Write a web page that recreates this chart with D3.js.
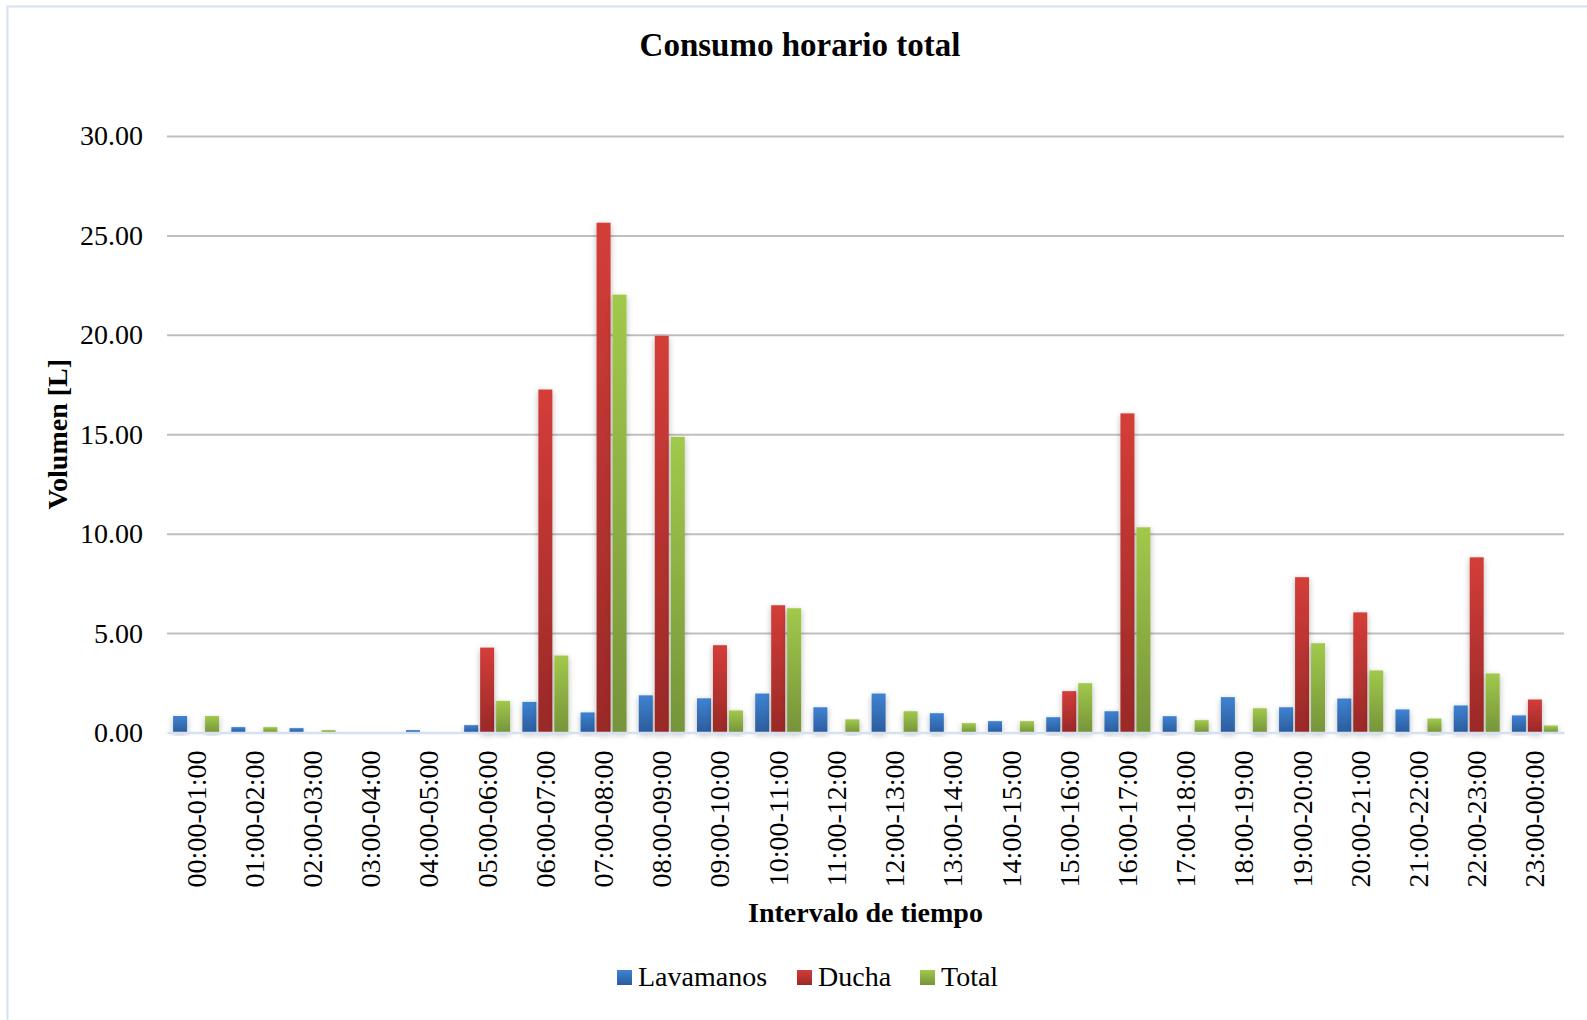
<!DOCTYPE html>
<html>
<head>
<meta charset="utf-8">
<script src="https://cdn.jsdelivr.net/npm/d3@7/dist/d3.min.js"></script>
<style>
  html, body { margin: 0; padding: 0; background: #fff; }
  svg { display: block; font-family: "Liberation Serif", "Times New Roman", serif; }
</style>
</head>
<body>
<svg id="chart" width="1587" height="1020"></svg>
<script>
// Hourly water use by fixture, in litres
const categories = [
  "00:00-01:00","01:00-02:00","02:00-03:00","03:00-04:00","04:00-05:00","05:00-06:00",
  "06:00-07:00","07:00-08:00","08:00-09:00","09:00-10:00","10:00-11:00","11:00-12:00",
  "12:00-13:00","13:00-14:00","14:00-15:00","15:00-16:00","16:00-17:00","17:00-18:00",
  "18:00-19:00","19:00-20:00","20:00-21:00","21:00-22:00","22:00-23:00","23:00-00:00"
];
const seriesNames = ["Lavamanos", "Ducha", "Total"];
const lavamanos = [0.83,0.27,0.22,0,0.12,0.37,1.54,1.01,1.87,1.72,1.96,1.27,1.96,0.97,0.57,0.77,1.07,0.82,1.78,1.27,1.71,1.16,1.36,0.86];
const ducha     = [0,0,0,0,0,4.27,17.25,25.64,19.95,4.39,6.40,0,0,0,0,2.08,16.05,0,0,7.81,6.04,0,8.81,1.66];
const total     = [0.83,0.27,0.12,0,0,1.59,3.87,22.02,14.87,1.11,6.25,0.66,1.07,0.47,0.57,2.48,10.32,0.62,1.22,4.49,3.12,0.70,2.97,0.35];
const yTicks = [0, 5, 10, 15, 20, 25, 30];

const seriesValues = [lavamanos, ducha, total];
const gradStops = [
  ["#3f83d3", "#2b5c9c"],
  ["#d43d39", "#992927"],
  ["#a1c94b", "#76943a"]
];

const svg = d3.select("#chart");
const W = 1587, H = 1020;
const plot = { left: 167, right: 1564, top: 136, bottom: 732.5 };

const defs = svg.append("defs");
gradStops.forEach((c, i) => {
  const g = defs.append("linearGradient").attr("id", "grad" + i)
    .attr("x1", 0).attr("y1", 0).attr("x2", 0).attr("y2", 1);
  g.append("stop").attr("offset", "0%").attr("stop-color", c[0]);
  g.append("stop").attr("offset", "100%").attr("stop-color", c[1]);
});
const shadow = defs.append("filter").attr("id", "shadow")
  .attr("x", "-60%").attr("y", "-10%").attr("width", "220%").attr("height", "130%");
shadow.append("feDropShadow").attr("dx", 0).attr("dy", 2)
  .attr("stdDeviation", 3).attr("flood-color", "#000").attr("flood-opacity", 0.28);

// chart frame
svg.append("rect").attr("x", 7.5).attr("y", 6.5).attr("width", W + 10).attr("height", H + 10)
  .attr("fill", "#fff").attr("stroke", "#d5e1f1").attr("stroke-width", 2);

const x0 = d3.scaleBand().domain(categories).range([plot.left, plot.right])
  .paddingInner(0.21).paddingOuter(0.105);
const x1 = d3.scaleBand().domain(seriesNames).range([0, x0.bandwidth()]).paddingInner(0.125);
const y = d3.scaleLinear().domain([0, 30]).range([plot.bottom, plot.top]);

// gridlines + y tick labels
const yAxis = d3.axisLeft(y).tickValues(yTicks)
  .tickSize(-(plot.right - plot.left)).tickPadding(24)
  .tickFormat(d3.format(".2f"));
const gy = svg.append("g").attr("transform", `translate(${plot.left},0)`).call(yAxis);
gy.select(".domain").remove();
gy.selectAll(".tick line").attr("stroke", "#bfbfbf").attr("stroke-width", 2)
  .filter(d => d === 0).remove();
gy.selectAll(".tick text").attr("font-size", 28).attr("fill", "#000")
  .attr("font-family", "Liberation Serif, serif");

// bars
const groups = svg.append("g").selectAll("g").data(categories).join("g")
  .attr("transform", d => `translate(${x0(d)},0)`);
groups.selectAll("rect")
  .data((d, i) => seriesNames.map((s, k) => ({ s, k, v: seriesValues[k][i] })).filter(e => e.v > 0))
  .join("rect")
  .attr("x", e => x1(e.s))
  .attr("width", x1.bandwidth())
  .attr("y", e => y(e.v))
  .attr("height", e => y(0) - y(e.v))
  .attr("fill", e => `url(#grad${e.k})`)
  .attr("filter", "url(#shadow)");

// category axis
const xAxis = d3.axisBottom(x0).tickSize(0).tickPadding(0);
const gx = svg.append("g").attr("transform", `translate(0,${plot.bottom})`).call(xAxis);
gx.select(".domain").attr("stroke", "#d5e1f1").attr("stroke-width", 2.5);
gx.selectAll(".tick text")
  .attr("font-size", 28).attr("fill", "#000").attr("font-family", "Liberation Serif, serif")
  .attr("text-anchor", "end").attr("dominant-baseline", "central")
  .attr("transform", "translate(0,18) rotate(-90)")
  .attr("x", 0).attr("y", 0).attr("dy", null);

// titles
svg.append("text").attr("x", 800).attr("y", 56).attr("text-anchor", "middle")
  .attr("font-size", 33).attr("font-weight", "bold").text("Consumo horario total");
svg.append("text").attr("x", (plot.left + plot.right) / 2).attr("y", 922).attr("text-anchor", "middle")
  .attr("font-size", 28).attr("font-weight", "bold").text("Intervalo de tiempo");
svg.append("text").attr("transform", `translate(67,${(plot.top + plot.bottom) / 2}) rotate(-90)`)
  .attr("text-anchor", "middle").attr("font-size", 28).attr("font-weight", "bold").text("Volumen [L]");

// legend
const legendX = [617, 797, 920];
const lg = svg.append("g").selectAll("g").data(seriesNames).join("g")
  .attr("transform", (d, i) => `translate(${legendX[i]},970)`);
lg.append("rect").attr("width", 15).attr("height", 15)
  .attr("fill", (d, i) => `url(#grad${i})`);
lg.append("text").attr("x", 21).attr("y", 16).attr("font-size", 28).text(d => d);
</script>
</body>
</html>
